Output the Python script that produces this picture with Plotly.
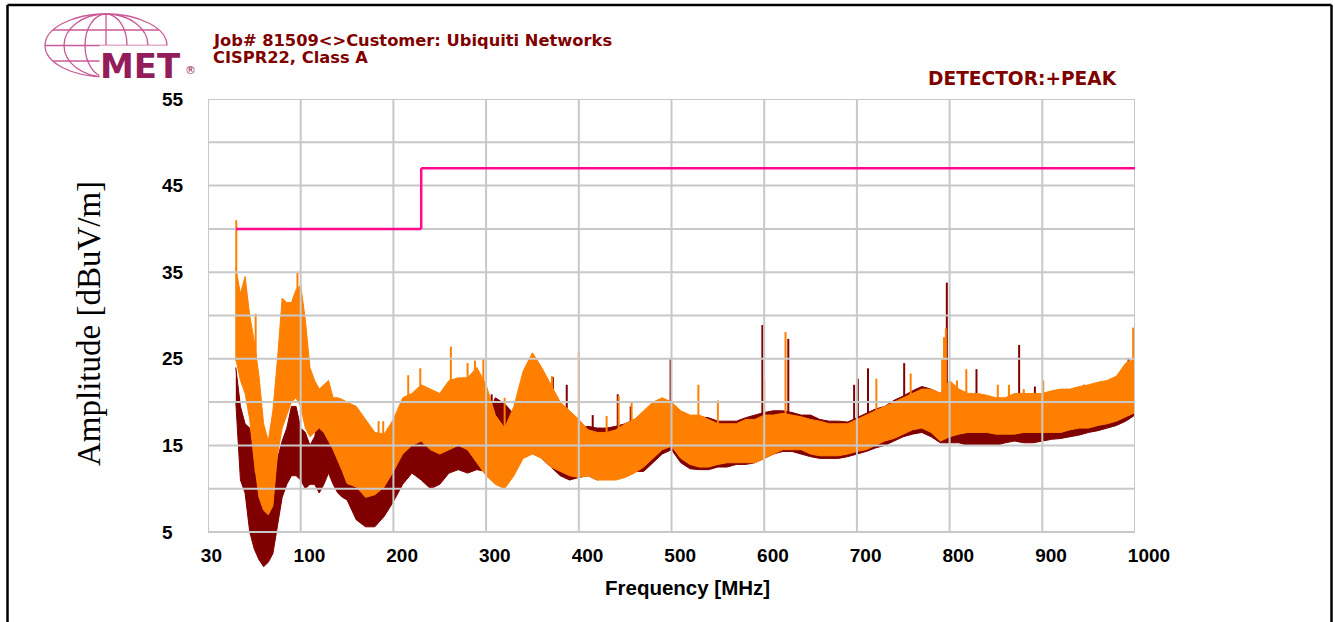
import numpy as np
import plotly.graph_objects as go

# ---------------- data ----------------
freq_mhz = [30, 35, 40, 45, 50, 55, 60, 65, 70, 75, 80, 85, 90, 95, 100, 105, 110, 115, 120, 125,
            130, 135, 140, 145, 150,
            160, 170, 180, 190, 200, 210, 220, 230, 240, 250, 260, 270, 280, 290, 300,
            310, 320, 330, 340, 350, 360, 370, 380, 390, 400, 410, 420, 430, 440, 450,
            460, 470, 480, 490, 500, 510, 520, 530, 540, 550, 560, 570, 580, 590, 600,
            610, 620, 630, 640, 650, 660, 670, 680, 690, 700, 710, 720, 730, 740, 750,
            760, 770, 780, 790, 800, 810, 820, 830, 840, 850, 860, 870, 880, 890, 900,
            910, 920, 930, 940, 950, 960, 970, 980, 990, 1000]

orange_max = [35.5, 32.5, 34.5, 30.0, 27.0, 23.0, 17.5, 15.5, 19.0, 25.0, 32.0, 31.5, 31.5, 33.0, 33.5,
              29.5, 24.0, 22.5, 21.5, 22.0, 22.5, 20.5, 20.5, 20.3, 20.0,
              19.5, 18.0, 16.5, 16.3, 18.0, 20.5, 21.0, 22.0, 21.5, 21.0, 22.5, 22.8, 22.8, 24.0, 22.0,
              18.5, 17.0, 19.5, 23.6, 25.7, 24.0, 22.0, 20.0, 19.0, 18.0, 16.8, 16.5, 16.5, 16.8, 17.5,
              18.0, 19.0, 20.0, 20.5, 20.0, 19.0, 18.5, 18.5, 18.0, 17.5, 17.5, 17.5, 18.0, 18.0, 18.5,
              18.5, 18.7, 18.5, 18.3, 18.0, 17.8, 17.5, 17.5, 17.5, 18.0, 18.5, 19.0, 19.5, 20.0, 20.5,
              21.0, 21.5, 21.5, 21.0, 22.5, 21.5, 21.0, 21.0, 20.8, 20.5, 20.5, 21.0, 21.0, 21.0, 21.0,
              21.3, 21.5, 21.5, 21.8, 22.0, 22.3, 22.5, 23.0, 24.5, 25.0]

orange_min = [25.0, 22.5, 21.0, 18.0, 13.0, 9.0, 7.5, 7.0, 8.0, 14.0, 17.0, 18.5, 20.0, 20.5, 19.5,
              17.0, 16.0, 16.5, 17.0, 16.5, 15.5, 14.5, 13.3, 12.0, 10.6,
              10.2, 9.0, 9.3, 10.2, 12.0, 14.0, 15.0, 15.5, 14.5, 14.0, 14.5, 15.0, 14.5, 13.0, 11.5,
              10.5, 10.0, 11.5, 13.5, 14.0, 13.5, 12.5, 12.0, 11.5, 11.3, 11.5, 11.0, 11.0, 11.0, 11.3,
              11.8, 12.5, 13.5, 14.5, 14.9, 13.5, 12.8, 12.5, 12.5, 12.8, 13.0, 13.0, 13.0, 13.0, 13.5,
              14.0, 14.5, 14.5, 14.5, 14.0, 13.8, 13.8, 13.8, 14.0, 14.3, 14.5, 15.0, 15.5, 15.8, 16.3,
              16.8, 17.0, 16.5, 15.5, 16.0, 16.3, 16.5, 16.5, 16.5, 16.3, 16.3, 16.3, 16.5, 16.5, 16.5,
              16.5, 16.5, 16.8, 17.0, 17.0, 17.3, 17.5, 17.8, 18.3, 18.8]

darkred_max = [24.0, 19.5, 17.5, 17.0, 13.0, 10.5, 8.5, 8.5, 10.0, 13.5, 15.5, 17.0, 19.5, 19.5, 17.0,
               16.5, 15.0, 16.0, 18.5, 18.0, 17.9, 17.0, 16.3, 15.0, 13.3,
               12.0, 11.5, 11.5, 12.5, 14.0, 15.5, 15.5, 16.0, 15.5, 15.0, 15.5, 16.5, 16.5, 16.5, 18.0,
               20.5, 19.8, 18.6, 17.1, 17.5, 17.0, 16.5, 16.0, 16.5, 17.0, 17.2, 17.0, 17.0, 17.2, 17.5,
               18.0, 18.5, 19.0, 19.5, 19.5, 18.5, 18.3, 18.3, 18.2, 17.8, 17.8, 17.8, 18.2, 18.5, 18.8,
               19.0, 19.0, 18.8, 18.5, 18.5, 18.0, 17.8, 17.8, 17.7, 18.2, 18.7, 19.2, 19.5, 20.2, 20.7,
               21.3, 21.8, 21.5, 21.0, 22.0, 21.0, 20.8, 20.8, 20.5, 20.3, 20.3, 20.5, 20.8, 20.8, 20.8,
               21.0, 21.2, 21.3, 21.5, 21.8, 22.0, 22.3, 22.5, 23.5, 24.5]

darkred_min = [20.0, 11.0, 9.5, 5.0, 3.0, 1.8, 1.0, 1.5, 2.5, 5.5, 9.0, 10.5, 11.5, 11.5, 11.0,
               10.0, 10.5, 10.5, 9.5, 10.5, 11.8, 10.5, 9.5, 9.0, 8.7,
               6.4, 5.6, 5.6, 6.8, 8.5, 10.5, 11.8, 11.0, 10.0, 10.5, 11.8, 12.2, 11.8, 12.2, 12.0,
               11.5, 12.0, 13.0, 14.0, 14.5, 13.5, 12.5, 11.5, 11.0, 11.3, 11.5, 11.0, 11.5, 11.5, 11.8,
               12.0, 12.0, 13.0, 14.0, 14.5, 13.0, 12.3, 12.2, 12.2, 12.5, 12.5, 12.8, 12.8, 13.0, 13.5,
               14.0, 14.3, 14.3, 14.0, 13.7, 13.5, 13.5, 13.5, 13.7, 14.0, 14.3, 14.7, 15.0, 15.5, 16.0,
               16.3, 16.5, 16.0, 15.3, 15.3, 15.3, 15.0, 15.0, 15.0, 15.0, 15.3, 15.5, 15.3, 15.3, 15.5,
               15.7, 15.8, 16.0, 16.2, 16.5, 16.7, 17.0, 17.3, 17.8, 18.5]

orange_spike_mhz = [30.5, 51.4, 96.5, 184, 189, 216, 229, 262, 280, 288, 297, 320, 371, 400,
                    430, 443, 457, 529, 550, 600, 623, 721, 758, 792, 794, 796, 808, 818,
                    852, 864, 880, 901, 966, 993, 998]
orange_spike_db = [41.0, 30.2, 35.0, 17.8, 17.8, 23.1, 23.9, 26.4, 24.5, 24.8, 25.0, 20.5, 23.0, 25.8,
                   18.4, 20.7, 20.0, 22.0, 20.2, 22.5, 28.1, 22.7, 23.3, 25.0, 27.5, 28.5, 22.5, 23.8,
                   22.0, 22.0, 21.5, 22.5, 22.3, 24.8, 28.6]

darkred_spike_mhz = [306, 372, 387, 415, 442, 456, 499, 598, 626, 697, 701, 712, 751, 797,
                     829, 875, 892, 945, 978, 993]
darkred_spike_db = [20.9, 22.9, 22.0, 18.5, 20.9, 19.5, 25.1, 28.9, 27.3, 22.0, 22.7, 23.9, 24.5, 33.8,
                    23.8, 26.6, 21.8, 22.0, 22.7, 25.1]

limit_mhz = [30, 230, 230, 1000]
limit_db = [40, 40, 47, 47]

x_tick_vals = [0, 100, 200, 300, 400, 500, 600, 700, 800, 900, 1000]
x_tick_text = ["30", "100", "200", "300", "400", "500", "600", "700", "800", "900", "1000"]
y_tick_vals = [5, 15, 25, 35, 45, 55]
y_grid_vals = [5, 10, 15, 20, 25, 30, 35, 40, 45, 50, 55]

# ---------------- layout geometry ----------------
W, H = 1335, 622
L, R, T, B = 208, 200, 99, 51
plot_w = W - L - R
plot_h = H - T - B
px_per_db = 433.0 / 50.0
y_lo = 55 - plot_h / px_per_db


def px_x(px):
    return (px - L) / plot_w


def px_y(py):
    return (H - B - py) / plot_h


DARKRED = "#800000"
ORANGE = "#FF8000"
GRID = "#C8C8C8"
LIMIT = "#FF0A8C"

fig = go.Figure()


def band(fmax, fmin, color):
    xs = list(freq_mhz) + list(freq_mhz[::-1])
    ys = list(fmax) + list(fmin[::-1])
    return go.Scatter(x=xs, y=ys, fill="toself", fillcolor=color, mode="lines",
                      line=dict(color=color, width=1), hoverinfo="skip", showlegend=False)


def spikes(fs, vs, base_series, color):
    xs, ys = [], []
    for f, v in zip(fs, vs):
        b = float(np.interp(f, freq_mhz, base_series))
        xs += [f, f, None]
        ys += [b, v, None]
    return go.Scatter(x=xs, y=ys, mode="lines", line=dict(color=color, width=2),
                      hoverinfo="skip", showlegend=False)


fig.add_trace(band(darkred_max, darkred_min, DARKRED))
fig.add_trace(spikes(darkred_spike_mhz, darkred_spike_db, darkred_min, DARKRED))
fig.add_trace(band(orange_max, orange_min, ORANGE))
fig.add_trace(spikes(orange_spike_mhz, orange_spike_db, orange_min, ORANGE))

shapes = []
# grid (drawn over the data like the original)
for v in y_grid_vals:
    shapes.append(dict(type="line", xref="x", yref="y", x0=0, x1=1000, y0=v, y1=v,
                       line=dict(color=GRID, width=2), layer="above"))
for xv in x_tick_vals:
    shapes.append(dict(type="line", xref="x", yref="y", x0=xv, x1=xv, y0=5, y1=55,
                       line=dict(color=GRID, width=2), layer="above"))

# limit line, drawn over the grid
for i in range(len(limit_mhz) - 1):
    shapes.append(dict(type="line", xref="x", yref="y",
                       x0=limit_mhz[i], x1=limit_mhz[i + 1], y0=limit_db[i], y1=limit_db[i + 1],
                       line=dict(color=LIMIT, width=2.5), layer="above"))

# outer black frame
for (x0, y0, x1, y1) in [(7.5, 5, 7.5, 630), (7.5, 5, 1331.5, 5), (1331.5, 5, 1331.5, 630)]:
    shapes.append(dict(type="line", xref="paper", yref="paper",
                       x0=px_x(x0), x1=px_x(x1), y0=px_y(y0), y1=px_y(y1),
                       line=dict(color="black", width=2.5), layer="above"))

# logo globe
LOGO = "#C85A96"
cx, cy, rx, ry = 106, 45.5, 61, 31.5
for hw in [rx, 42, 21]:
    shapes.append(dict(type="circle", xref="paper", yref="paper",
                       x0=px_x(cx - hw), x1=px_x(cx + hw), y0=px_y(cy - ry), y1=px_y(cy + ry),
                       line=dict(color=LOGO, width=1.3), layer="above"))
shapes.append(dict(type="line", xref="paper", yref="paper",
                   x0=px_x(cx), x1=px_x(cx), y0=px_y(cy - ry), y1=px_y(cy + ry),
                   line=dict(color=LOGO, width=1.3), layer="above"))
for dy in [-15.5, 0, 15.5]:
    hw = rx * np.sqrt(1 - (dy / ry) ** 2)
    shapes.append(dict(type="line", xref="paper", yref="paper",
                       x0=px_x(cx - hw), x1=px_x(cx + hw), y0=px_y(cy + dy), y1=px_y(cy + dy),
                       line=dict(color=LOGO, width=1.3), layer="above"))

TXT = "#800000"
ann = []
ann.append(dict(text="MET", xref="paper", yref="paper", x=px_x(140), y=px_y(65.5),
                xanchor="center", yanchor="middle", showarrow=False, bgcolor="white", borderpad=0,
                font=dict(family="DejaVu Sans", size=34, color="#931C5B", weight="bold")))
ann.append(dict(text="®", xref="paper", yref="paper", x=px_x(190), y=px_y(70),
                xanchor="center", yanchor="middle", showarrow=False,
                font=dict(family="DejaVu Sans", size=11, color="#931C5B")))
ann.append(dict(text="Job# 81509&lt;&gt;Customer: Ubiquiti Networks", xref="paper", yref="paper",
                x=px_x(211), y=px_y(40), xanchor="left", yanchor="middle", showarrow=False,
                font=dict(family="DejaVu Sans", size=16.3, color=TXT, weight="bold")))
ann.append(dict(text="CISPR22, Class A", xref="paper", yref="paper",
                x=px_x(211), y=px_y(58), xanchor="left", yanchor="middle", showarrow=False,
                font=dict(family="DejaVu Sans", size=16.3, color=TXT, weight="bold")))
ann.append(dict(text="DETECTOR:+PEAK", xref="paper", yref="paper",
                x=px_x(926), y=px_y(78.5), xanchor="left", yanchor="middle", showarrow=False,
                font=dict(family="DejaVu Sans", size=18.6, color=TXT, weight="bold")))
ann.append(dict(text="Frequency [MHz]", xref="paper", yref="paper",
                x=px_x(687), y=px_y(587), xanchor="center", yanchor="middle", showarrow=False,
                font=dict(family="Liberation Sans", size=20.5, color="black", weight="bold")))
ann.append(dict(text="Amplitude [dBuV/m]", xref="paper", yref="paper", textangle=-90,
                x=px_x(89), y=px_y(324), xanchor="center", yanchor="middle", showarrow=False,
                font=dict(family="Liberation Serif", size=33, color="black")))

FS = "\u2007"
x_text_padded = [t + FS * (4 - len(t)) for t in x_tick_text]
y_text_padded = [str(v) + FS * (2 - len(str(v))) for v in y_tick_vals]

fig.update_layout(
    width=W, height=H,
    margin=dict(l=L, r=R, t=T, b=B, pad=0),
    paper_bgcolor="white", plot_bgcolor="white",
    showlegend=False,
    shapes=shapes, annotations=ann,
    xaxis=dict(range=[0, 1000], anchor="free", position=(5 - y_lo) / (55 - y_lo),
               showgrid=False, zeroline=False, showline=False,
               tickvals=x_tick_vals, ticktext=x_text_padded, ticks="outside", ticklen=0,
               ticklabelshift=14, ticklabelstandoff=6,
               tickfont=dict(family="Liberation Sans", size=19, color="black", weight="bold")),
    yaxis=dict(range=[y_lo, 55], showgrid=False, zeroline=False, showline=False,
               tickvals=y_tick_vals, ticktext=y_text_padded, ticks="outside", ticklen=0,
               ticklabelstandoff=20,
               tickfont=dict(family="Liberation Sans", size=19, color="black", weight="bold")),
)

fig.write_html("out.html", config={"displayModeBar": False},
               post_script="document.body.style.margin='0px';")
